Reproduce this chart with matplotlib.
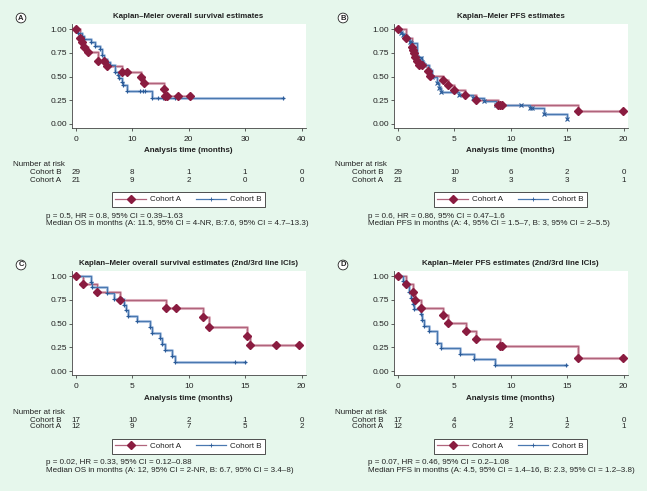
import matplotlib
matplotlib.use("Agg")
import matplotlib.pyplot as plt
from matplotlib.lines import Line2D
from matplotlib.transforms import blended_transform_factory

plt.rcParams['font.family'] = ['Liberation Sans', 'DejaVu Sans']

# ---- data ----
# A: overall survival
os_a_t = [0, 0.71, 1.13, 1.48, 2.07, 3.85, 5.04, 5.51, 8.24, 9.0, 11.55, 12.03, 15.6, 15.8, 16.2, 18.1, 20.2]
os_a_s = [1.0, 0.905, 0.862, 0.816, 0.764, 0.669, 0.669, 0.612, 0.553, 0.553, 0.493, 0.436, 0.366, 0.296, 0.296, 0.296, 0.296]
os_b_t = [0, 0.3, 1.0, 1.5, 2.6, 3.3, 4.3, 4.6, 4.9, 5.5, 6.0, 6.9, 7.4, 7.7, 8.1, 8.4, 9.0, 11.4, 11.9, 12.3, 13.5, 14.5, 15.4, 17.6, 36.7]
os_b_s = [1.0, 0.966, 0.931, 0.897, 0.862, 0.828, 0.793, 0.724, 0.690, 0.655, 0.621, 0.552, 0.517, 0.483, 0.448, 0.414, 0.345, 0.345, 0.345, 0.345, 0.276, 0.276, 0.276, 0.276, 0.276]

# B: progression-free survival
pfs_a_t = [0, 0.68, 1.27, 1.33, 1.42, 1.51, 1.71, 1.86, 2.16, 2.66, 2.84, 3.96, 4.44, 4.97, 5.95, 6.95, 8.87, 9.05, 9.23, 15.94, 19.94]
pfs_a_s = [1.0, 0.905, 0.816, 0.78, 0.746, 0.711, 0.665, 0.623, 0.623, 0.563, 0.507, 0.462, 0.408, 0.355, 0.306, 0.25, 0.197, 0.197, 0.197, 0.137, 0.137]
pfs_b_t = [0, 0.29, 0.47, 0.77, 1.06, 1.18, 1.71, 2.01, 2.16, 2.3, 2.75, 3.04, 3.43, 3.64, 3.78, 5.41, 6.68, 7.63, 8.67, 10.9, 11.72, 11.92, 12.96, 14.97]
pfs_b_s = [1.0, 0.957, 0.94, 0.905, 0.869, 0.852, 0.711, 0.693, 0.658, 0.623, 0.57, 0.5, 0.43, 0.377, 0.342, 0.306, 0.27, 0.246, 0.2, 0.2, 0.164, 0.164, 0.101, 0.052]

# C: overall survival, 2nd/3rd line
os2_a_t = [0, 0.65, 1.9, 3.9, 7.95, 8.86, 11.28, 11.76, 15.2, 15.47, 17.7, 19.8]
os2_a_s = [1.0, 0.917, 0.833, 0.75, 0.66, 0.66, 0.565, 0.468, 0.37, 0.272, 0.272, 0.272]
os2_b_t = [0, 1.33, 1.45, 2.73, 3.41, 4.12, 4.3, 4.41, 4.59, 5.39, 6.58, 6.73, 7.47, 7.61, 7.85, 8.5, 8.8, 14.1, 15.0]
os2_b_s = [1.0, 0.941, 0.882, 0.824, 0.765, 0.765, 0.702, 0.643, 0.583, 0.528, 0.465, 0.406, 0.346, 0.283, 0.224, 0.161, 0.098, 0.098, 0.098]

# D: PFS, 2nd/3rd line
pfs2_a_t = [0, 0.68, 1.35, 1.47, 2.0, 4.0, 4.45, 5.99, 6.96, 9.02, 9.26, 15.93, 19.94]
pfs2_a_s = [1.0, 0.922, 0.835, 0.755, 0.668, 0.587, 0.51, 0.423, 0.343, 0.259, 0.259, 0.136, 0.136]
pfs2_b_t = [0, 0.47, 0.68, 0.97, 1.18, 1.35, 1.42, 2.0, 2.15, 2.3, 2.74, 3.42, 3.77, 5.48, 6.78, 8.64, 14.9]
pfs2_b_s = [1.0, 0.947, 0.895, 0.832, 0.772, 0.71, 0.65, 0.598, 0.538, 0.476, 0.423, 0.30, 0.241, 0.178, 0.13, 0.067, 0.067]

risk_os_b = [29, 8, 1, 1, 0]
risk_os_a = [21, 9, 2, 0, 0]
risk_pfs_b = [29, 10, 6, 2, 0]
risk_pfs_a = [21, 8, 3, 3, 1]
risk_os2_b = [17, 10, 2, 1, 0]
risk_os2_a = [12, 9, 7, 5, 2]
risk_pfs2_b = [17, 4, 1, 1, 0]
risk_pfs2_a = [12, 6, 2, 2, 1]

titles = ["Kaplan\u2013Meier overall survival estimates",
          "Kaplan\u2013Meier PFS estimates",
          "Kaplan\u2013Meier overall survival estimates (2nd/3rd line ICIs)",
          "Kaplan\u2013Meier PFS estimates (2nd/3rd line ICIs)"]
stats = [("p = 0.5, HR = 0.8, 95% CI = 0.39\u20131.63",
          "Median OS in months (A: 11.5, 95% CI = 4-NR, B:7.6, 95% CI = 4.7\u201313.3)"),
         ("p = 0.6, HR = 0.86, 95% CI = 0.47\u20131.6",
          "Median PFS in months (A: 4, 95% CI = 1.5\u20137, B: 3, 95% CI = 2\u20135.5)"),
         ("p = 0.02, HR = 0.33, 95% CI = 0.12\u20130.88",
          "Median OS in months (A: 12, 95% CI = 2-NR, B: 6.7, 95% CI = 3.4\u20138)"),
         ("p = 0.07, HR = 0.46, 95% CI = 0.2\u20131.08",
          "Median PFS in months (A: 4.5, 95% CI = 1.4\u201316, B: 2.3, 95% CI = 1.2\u20133.8)")]

BG = '#e6f7ec'
RED_LINE = '#b0647c'
RED_MK = '#8a1c40'
BLUE_LINE = '#4a78b0'
BLUE_MK = '#2b5b98'
AXC = '#444444'
TXT = '#222222'
FS = 5.8

W, H = 647, 491
fig = plt.figure(figsize=(W / 100, H / 100), dpi=100, facecolor=BG)


def fx(x):
    return x / W


def fy(y):
    return 1 - y / H


def draw_panel(x0, y0, letter, title, ta, sa, tb, sb, xmax, xstep, risk_b, risk_a, stat, bmark):
    left, right, top, bottom = x0 + 71.7, x0 + 305.5, y0 + 24, y0 + 128
    ax = fig.add_axes([fx(left), fy(bottom), (right - left) / W, (bottom - top) / H])
    ax.set_facecolor('white')
    xs = (right - left - 8.3) / xmax
    ax.set_xlim(-4.3 / xs, xmax + 4.0 / xs)
    ax.set_ylim(-4.0 / 94.7, 1 + 5.3 / 94.7)
    for sp in ['top', 'right']:
        ax.spines[sp].set_visible(False)
    for sp in ['left', 'bottom']:
        ax.spines[sp].set_color(AXC)
        ax.spines[sp].set_linewidth(0.6)
    xt = list(range(0, xmax + 1, xstep))
    ax.set_xticks(xt)
    ax.set_yticks([0, 0.25, 0.5, 0.75, 1.0])
    ax.set_yticklabels(['0.00', '0.25', '0.50', '0.75', '1.00'])
    ax.tick_params(axis='both', labelsize=6.0, colors=AXC, labelcolor=TXT,
                   length=2.5, width=0.6)
    ax.tick_params(axis='x', pad=3)
    ax.tick_params(axis='y', pad=1)

    # cohort A (red) and cohort B (blue)
    ax.step(ta, sa, where='post', color='#e2b8c5', lw=2.2, zorder=2)
    ax.step(tb, sb, where='post', color='#b8cce6', lw=2.2, zorder=2)
    ax.step(ta, sa, where='post', color=RED_LINE, lw=0.9, zorder=3)
    ax.step(tb, sb, where='post', color=BLUE_LINE, lw=0.9, zorder=3)
    ax.plot(tb, sb, ls='none', marker=bmark, ms=3.3, mew=0.8, color=BLUE_MK, zorder=4)
    ax.plot(ta, sa, ls='none', marker='D', ms=3.8, color=RED_MK, mec=RED_MK, zorder=5)

    cx = (left + right) / 2
    fig.text(fx(cx), fy(y0 + 16.7), title, ha='center', va='center',
             fontsize=5.7, fontweight='bold', color=TXT)
    fig.text(fx(x0 + 21), fy(y0 + 18), letter, ha='center', va='center',
             fontsize=5.5, fontweight='bold', color=TXT,
             bbox=dict(boxstyle='circle,pad=0.18', fc='white', ec=TXT, lw=0.6))
    fig.text(fx(cx), fy(y0 + 151), 'Analysis time (months)', ha='center', va='center',
             fontsize=5.8, fontweight='bold', color=TXT)

    fig.text(fx(x0 + 12.7), fy(y0 + 165), 'Number at risk', ha='left', va='center',
             fontsize=FS, color=TXT)
    fig.text(fx(x0 + 61), fy(y0 + 173), 'Cohort B', ha='right', va='center',
             fontsize=FS, color=TXT)
    fig.text(fx(x0 + 61), fy(y0 + 180), 'Cohort A', ha='right', va='center',
             fontsize=FS, color=TXT)
    tr = blended_transform_factory(ax.transData, fig.transFigure)
    for t, nb, na in zip(xt, risk_b, risk_a):
        ax.text(t, fy(y0 + 173), str(nb), transform=tr, ha='center', va='center',
                fontsize=FS, color=TXT)
        ax.text(t, fy(y0 + 180), str(na), transform=tr, ha='center', va='center',
                fontsize=FS, color=TXT)

    handles = [Line2D([], [], color=RED_LINE, lw=0.9, marker='D', ms=3.6, mfc=RED_MK, mec=RED_MK),
               Line2D([], [], color=BLUE_LINE, lw=0.9, marker='+', ms=3.0, mew=0.6, mec=BLUE_MK)]
    leg = fig.legend(handles, ['Cohort A', 'Cohort B'], loc='center',
                     bbox_to_anchor=(fx(cx), fy(y0 + 199.5)), ncol=2, fontsize=FS,
                     frameon=True, fancybox=False, edgecolor='#333333', framealpha=1,
                     handlelength=3.8, handletextpad=0.5, columnspacing=1.8,
                     borderpad=0.45, numpoints=1)
    leg.get_frame().set_linewidth(0.6)
    for txt in leg.get_texts():
        txt.set_color(TXT)

    fig.text(fx(x0 + 45.7), fy(y0 + 216), stat[0], ha='left', va='center',
             fontsize=FS, color=TXT)
    fig.text(fx(x0 + 45.7), fy(y0 + 223.3), stat[1], ha='left', va='center',
             fontsize=FS, color=TXT)


draw_panel(0, 0, 'A', titles[0], os_a_t, os_a_s, os_b_t, os_b_s, 40, 10,
           risk_os_b, risk_os_a, stats[0], '+')
draw_panel(322, 0, 'B', titles[1], pfs_a_t, pfs_a_s, pfs_b_t, pfs_b_s, 20, 5,
           risk_pfs_b, risk_pfs_a, stats[1], 'x')
draw_panel(0, 247, 'C', titles[2], os2_a_t, os2_a_s, os2_b_t, os2_b_s, 20, 5,
           risk_os2_b, risk_os2_a, stats[2], '+')
draw_panel(322, 247, 'D', titles[3], pfs2_a_t, pfs2_a_s, pfs2_b_t, pfs2_b_s, 20, 5,
           risk_pfs2_b, risk_pfs2_a, stats[3], '+')

fig.savefig('out.png', dpi=100, facecolor=BG)
